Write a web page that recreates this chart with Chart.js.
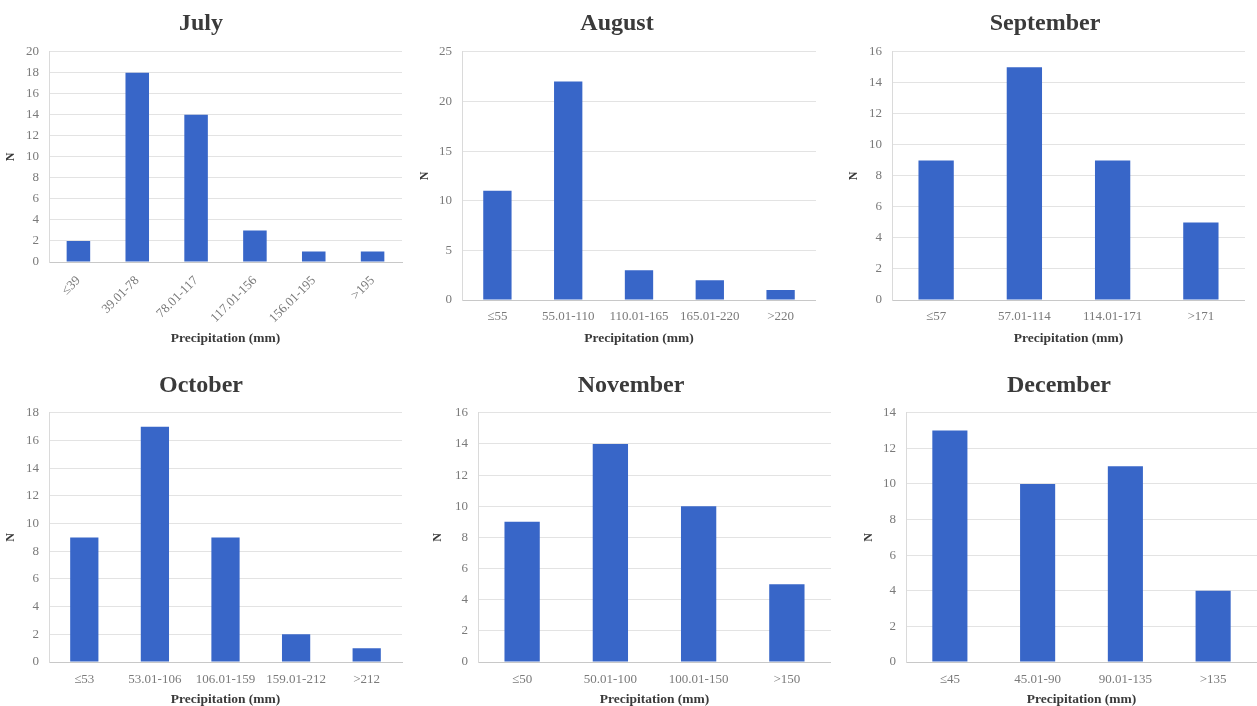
<!DOCTYPE html>
<html>
<head>
<meta charset="utf-8">
<script src="https://cdn.jsdelivr.net/npm/chart.js@4.4.1/dist/chart.umd.min.js"></script>
<style>
  html, body { margin: 0; background: #fff; }
  #wrap { position: relative; width: 1257px; height: 706px; overflow: hidden; }
  .panel { position: absolute; }
  .panel canvas { display: block; }
</style>
</head>
<body>
<div id="wrap"></div>
<script>
// Data per month
const julyLabels = ['≤39', '39.01-78', '78.01-117', '117.01-156', '156.01-195', '>195'];
const julyCounts = [2, 18, 14, 3, 1, 1];
const augLabels = ['≤55', '55.01-110', '110.01-165', '165.01-220', '>220'];
const augCounts = [11, 22, 3, 2, 1];
const sepLabels = ['≤57', '57.01-114', '114.01-171', '>171'];
const sepCounts = [9, 15, 9, 5];
const octLabels = ['≤53', '53.01-106', '106.01-159', '159.01-212', '>212'];
const octCounts = [9, 17, 9, 2, 1];
const novLabels = ['≤50', '50.01-100', '100.01-150', '>150'];
const novCounts = [9, 14, 10, 5];
const decLabels = ['≤45', '45.01-90', '90.01-135', '>135'];
const decCounts = [13, 10, 11, 4];

const xTitle = 'Precipitation (mm)';
const yTitle = 'N';

Chart.defaults.font.family = '"Liberation Serif", "Times New Roman", serif';

const barColor = '#3866c8';
const textColor = '#3a3a3a';
const tickColor = '#7a7a7a';

// panel layout: box = [left, top, width, height]
const panels = [
  { title: 'July', labels: julyLabels, counts: julyCounts, max: 20, step: 2,
    box: [0, 0, 404, 350], yW: 49, xH: 88, padR: 2, tTop: 9, tBot: 14, nPad: 4, xPad: 3, tickPad: 3, rot: 45 },
  { title: 'August', labels: augLabels, counts: augCounts, max: 25, step: 5,
    box: [418, 0, 398, 350], yW: 44, xH: 50, padR: 0, tTop: 9, tBot: 14, nPad: 0, xPad: 3, tickPad: 1, rot: 0 },
  { title: 'September', labels: sepLabels, counts: sepCounts, max: 16, step: 2,
    box: [845, 0, 400, 350], yW: 47, xH: 50, padR: 0, tTop: 9, tBot: 14, nPad: 2, xPad: 3, tickPad: 1, rot: 0 },
  { title: 'October', labels: octLabels, counts: octCounts, max: 18, step: 2,
    box: [0, 360, 404, 349], yW: 49, xH: 47, padR: 2, tTop: 11, tBot: 13, nPad: 4, xPad: 1, tickPad: 2, rot: 0 },
  { title: 'November', labels: novLabels, counts: novCounts, max: 16, step: 2,
    box: [431, 360, 400, 349], yW: 47, xH: 47, padR: 0, tTop: 11, tBot: 13, nPad: 0, xPad: 1, tickPad: 2, rot: 0 },
  { title: 'December', labels: decLabels, counts: decCounts, max: 14, step: 2,
    box: [861, 360, 396, 349], yW: 45, xH: 47, padR: 0, tTop: 11, tBot: 13, nPad: 1, xPad: 1, tickPad: 2, rot: 0 },
];

const wrap = document.getElementById('wrap');

panels.forEach(p => {
  const [left, top, w, h] = p.box;
  const div = document.createElement('div');
  div.className = 'panel';
  div.style.left = left + 'px';
  div.style.top = top + 'px';
  const canvas = document.createElement('canvas');
  canvas.width = w;
  canvas.height = h;
  div.appendChild(canvas);
  wrap.appendChild(div);

  new Chart(canvas, {
    type: 'bar',
    data: {
      labels: p.labels,
      datasets: [{
        data: p.counts,
        backgroundColor: barColor,
        borderWidth: 0,
        barPercentage: 0.4,
        categoryPercentage: 1,
      }]
    },
    options: {
      responsive: false,
      animation: false,
      layout: { padding: { left: 0, right: p.padR, top: 0, bottom: 0 } },
      plugins: {
        legend: { display: false },
        tooltip: { enabled: false },
        title: {
          display: true,
          text: p.title,
          color: textColor,
          font: { size: 24, weight: 'bold', lineHeight: 1.2 },
          padding: { top: p.tTop, bottom: p.tBot }
        }
      },
      scales: {
        x: {
          grid: { display: false },
          border: { display: true, color: '#c8c8c8' },
          ticks: {
            color: tickColor,
            font: { size: 13 },
            padding: p.tickPad,
            autoSkip: false,
            maxRotation: p.rot,
            minRotation: p.rot
          },
          title: {
            display: true,
            text: xTitle,
            color: textColor,
            font: { size: 13.5, weight: 'bold' },
            padding: { top: 0, bottom: p.xPad }
          },
          afterFit: (axis) => { axis.height = p.xH; }
        },
        y: {
          min: 0,
          max: p.max,
          grid: { color: '#e3e3e3', drawTicks: false },
          border: { display: true, color: '#dadada' },
          ticks: {
            stepSize: p.step,
            color: tickColor,
            font: { size: 13 },
            padding: 10
          },
          title: {
            display: true,
            text: yTitle,
            color: textColor,
            font: { size: 12, weight: 'bold' },
            padding: { top: p.nPad, bottom: 0 }
          },
          afterFit: (axis) => { axis.width = p.yW; }
        }
      }
    }
  });
});
</script>
</body>
</html>
